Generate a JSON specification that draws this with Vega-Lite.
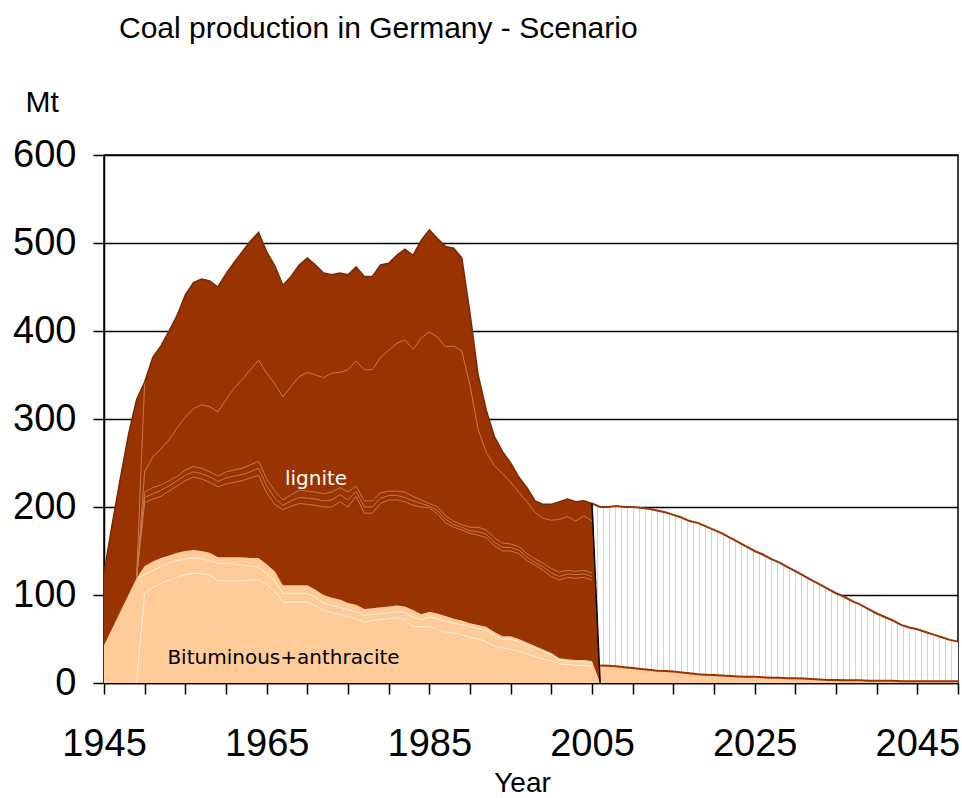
{
  "$schema": "https://vega.github.io/schema/vega-lite/v6.json",
  "width": 854,
  "height": 528,
  "autosize": {"type": "none"},
  "padding": {"left": 104, "top": 155, "right": 4, "bottom": 115},
  "background": "white",
  "title": {"text": "Coal production in Germany - Scenario", "anchor": "start", "frame": "group", "dx": 15, "offset": 43, "font": "Liberation Sans", "fontSize": 30, "fontWeight": "normal", "color": "#000"},
  "config": {"view": {"stroke": "#000", "strokeWidth": 1.5}},
  "datasets": {
    "hist": [
      {"year": 1945, "total": 125, "bit": 43},
      {"year": 1946, "total": 180, "bit": 62},
      {"year": 1947, "total": 232, "bit": 81},
      {"year": 1948, "total": 282, "bit": 100},
      {"year": 1949, "total": 322, "bit": 119, "U": 119, "B1": 119, "B2": 119, "B3": 119, "W1": 0, "W2": 119, "S": 119},
      {"year": 1950, "total": 342, "bit": 133, "U": 240, "B1": 217, "B2": 211, "B3": 205, "W1": 102, "W2": 123, "S": 342},
      {"year": 1951, "total": 370, "bit": 138, "U": 257, "B1": 222, "B2": 215, "B3": 209, "W1": 108, "W2": 128},
      {"year": 1952, "total": 383, "bit": 142, "U": 266, "B1": 225, "B2": 219, "B3": 212, "W1": 113, "W2": 132},
      {"year": 1953, "total": 400, "bit": 145, "U": 276, "B1": 230, "B2": 224, "B3": 218, "W1": 117, "W2": 136},
      {"year": 1954, "total": 418, "bit": 148, "U": 290, "B1": 235, "B2": 230, "B3": 224, "W1": 120, "W2": 139},
      {"year": 1955, "total": 441, "bit": 150, "U": 302, "B1": 242, "B2": 236, "B3": 230, "W1": 123, "W2": 141},
      {"year": 1956, "total": 455, "bit": 151, "U": 312, "B1": 246, "B2": 240, "B3": 234, "W1": 125, "W2": 142},
      {"year": 1957, "total": 459, "bit": 150, "U": 316, "B1": 244, "B2": 238, "B3": 232, "W1": 124, "W2": 141},
      {"year": 1958, "total": 457, "bit": 148, "U": 314, "B1": 240, "B2": 234, "B3": 228, "W1": 123, "W2": 139},
      {"year": 1959, "total": 450, "bit": 143, "U": 308, "B1": 235, "B2": 229, "B3": 223, "W1": 116, "W2": 136},
      {"year": 1960, "total": 465, "bit": 143, "U": 322, "B1": 240, "B2": 233, "B3": 226, "W1": 116, "W2": 136},
      {"year": 1961, "total": 478, "bit": 143, "U": 335, "B1": 242, "B2": 235, "B3": 228, "W1": 116, "W2": 135},
      {"year": 1962, "total": 490, "bit": 143, "U": 345, "B1": 244, "B2": 237, "B3": 230, "W1": 116, "W2": 134},
      {"year": 1963, "total": 502, "bit": 142, "U": 356, "B1": 248, "B2": 240, "B3": 233, "W1": 117, "W2": 133},
      {"year": 1964, "total": 512, "bit": 142, "U": 367, "B1": 252, "B2": 244, "B3": 236, "W1": 117, "W2": 132},
      {"year": 1965, "total": 490, "bit": 135, "U": 352, "B1": 232, "B2": 224, "B3": 216, "W1": 112, "W2": 124},
      {"year": 1966, "total": 474, "bit": 127, "U": 340, "B1": 218, "B2": 210, "B3": 203, "W1": 104, "W2": 116},
      {"year": 1967, "total": 452, "bit": 111, "U": 325, "B1": 208, "B2": 202, "B3": 197, "W1": 92, "W2": 102},
      {"year": 1968, "total": 462, "bit": 111, "U": 337, "B1": 214, "B2": 207, "B3": 201, "W1": 92, "W2": 102},
      {"year": 1969, "total": 475, "bit": 111, "U": 348, "B1": 219, "B2": 211, "B3": 204, "W1": 92, "W2": 102},
      {"year": 1970, "total": 483, "bit": 111, "U": 353, "B1": 218, "B2": 210, "B3": 203, "W1": 92, "W2": 102},
      {"year": 1971, "total": 475, "bit": 106, "U": 350, "B1": 217, "B2": 209, "B3": 202, "W1": 88, "W2": 97},
      {"year": 1972, "total": 466, "bit": 100, "U": 347, "B1": 215, "B2": 207, "B3": 200, "W1": 83, "W2": 91},
      {"year": 1973, "total": 464, "bit": 97, "U": 352, "B1": 217, "B2": 208, "B3": 200, "W1": 80, "W2": 88},
      {"year": 1974, "total": 466, "bit": 95, "U": 353, "B1": 222, "B2": 214, "B3": 206, "W1": 78, "W2": 86},
      {"year": 1975, "total": 464, "bit": 91, "U": 356, "B1": 217, "B2": 208, "B3": 200, "W1": 75, "W2": 83},
      {"year": 1976, "total": 473, "bit": 89, "U": 366, "B1": 224, "B2": 218, "B3": 212, "W1": 73, "W2": 81},
      {"year": 1977, "total": 462, "bit": 84, "U": 356, "B1": 207, "B2": 200, "B3": 193, "W1": 69, "W2": 77},
      {"year": 1978, "total": 462, "bit": 85, "U": 356, "B1": 207, "B2": 200, "B3": 193, "W1": 71, "W2": 78},
      {"year": 1979, "total": 475, "bit": 86, "U": 370, "B1": 216, "B2": 210, "B3": 204, "W1": 72, "W2": 79},
      {"year": 1980, "total": 477, "bit": 87, "U": 378, "B1": 218, "B2": 213, "B3": 208, "W1": 73, "W2": 80},
      {"year": 1981, "total": 486, "bit": 88, "U": 386, "B1": 218, "B2": 213, "B3": 208, "W1": 74, "W2": 81},
      {"year": 1982, "total": 493, "bit": 87, "U": 390, "B1": 217, "B2": 211, "B3": 206, "W1": 72, "W2": 80},
      {"year": 1983, "total": 486, "bit": 83, "U": 379, "B1": 212, "B2": 207, "B3": 202, "W1": 64, "W2": 75},
      {"year": 1984, "total": 503, "bit": 78, "U": 392, "B1": 208, "B2": 204, "B3": 200, "W1": 64, "W2": 72},
      {"year": 1985, "total": 515, "bit": 81, "U": 399, "B1": 204, "B2": 201, "B3": 199, "W1": 64, "W2": 75},
      {"year": 1986, "total": 505, "bit": 79, "U": 393, "B1": 200, "B2": 196, "B3": 192, "W1": 61, "W2": 73},
      {"year": 1987, "total": 496, "bit": 76, "U": 382, "B1": 190, "B2": 186, "B3": 182, "W1": 58, "W2": 70},
      {"year": 1988, "total": 494, "bit": 73, "U": 383, "B1": 184, "B2": 180, "B3": 177, "W1": 57, "W2": 68},
      {"year": 1989, "total": 483, "bit": 71, "U": 377, "B1": 180, "B2": 177, "B3": 174, "W1": 55, "W2": 66},
      {"year": 1990, "total": 420, "bit": 68, "U": 338, "B1": 177, "B2": 173, "B3": 170, "W1": 52, "W2": 64},
      {"year": 1991, "total": 350, "bit": 66, "U": 288, "B1": 177, "B2": 172, "B3": 168, "W1": 50, "W2": 62},
      {"year": 1992, "total": 310, "bit": 64, "U": 262, "B1": 174, "B2": 169, "B3": 165, "W1": 47, "W2": 60},
      {"year": 1993, "total": 280, "bit": 58, "U": 247, "B1": 165, "B2": 160, "B3": 156, "W1": 42, "W2": 54},
      {"year": 1994, "total": 263, "bit": 53, "U": 238, "B1": 159, "B2": 154, "B3": 150, "W1": 40, "W2": 50},
      {"year": 1995, "total": 250, "bit": 53, "U": 228, "B1": 158, "B2": 154, "B3": 150, "W1": 38, "W2": 50},
      {"year": 1996, "total": 234, "bit": 50, "U": 217, "B1": 155, "B2": 151, "B3": 147, "W1": 36, "W2": 47},
      {"year": 1997, "total": 222, "bit": 46, "U": 206, "B1": 147, "B2": 143, "B3": 139, "W1": 33, "W2": 43},
      {"year": 1998, "total": 207, "bit": 42, "U": 194, "B1": 141, "B2": 137, "B3": 134, "W1": 30, "W2": 40},
      {"year": 1999, "total": 203, "bit": 38, "U": 187, "B1": 136, "B2": 132, "B3": 128, "W1": 27, "W2": 36},
      {"year": 2000, "total": 203, "bit": 34, "U": 185, "B1": 130, "B2": 125, "B3": 121, "W1": 25, "W2": 32},
      {"year": 2001, "total": 206, "bit": 28, "U": 186, "B1": 126, "B2": 121, "B3": 117, "W1": 22, "W2": 26},
      {"year": 2002, "total": 209, "bit": 27, "U": 189, "B1": 128, "B2": 124, "B3": 120, "W1": 21, "W2": 25},
      {"year": 2003, "total": 206, "bit": 26, "U": 184, "B1": 127, "B2": 123, "B3": 119, "W1": 20, "W2": 24},
      {"year": 2004, "total": 207, "bit": 26, "U": 190, "B1": 128, "B2": 124, "B3": 120, "W1": 20, "W2": 24},
      {"year": 2005, "total": 204, "bit": 25, "U": 184, "B1": 125, "B2": 121, "B3": 117, "W1": 19, "W2": 23},
      {"year": 2006, "total": 0, "bit": 0}
    ],
    "scen": [
      {"year": 2005, "top": 204, "base": 204, "edge": 204},
      {"year": 2006, "top": 200, "base": 0, "bit": 20, "edge": 0},
      {"year": 2007, "top": 200, "base": 0, "bit": 19.5},
      {"year": 2008, "top": 201, "base": 0, "bit": 19},
      {"year": 2009, "top": 200, "base": 0, "bit": 18},
      {"year": 2010, "top": 200, "base": 0, "bit": 17},
      {"year": 2011, "top": 199, "base": 0, "bit": 16},
      {"year": 2012, "top": 198, "base": 0, "bit": 15},
      {"year": 2013, "top": 196, "base": 0, "bit": 14},
      {"year": 2014, "top": 194, "base": 0, "bit": 13.5},
      {"year": 2015, "top": 191, "base": 0, "bit": 13},
      {"year": 2016, "top": 188, "base": 0, "bit": 12},
      {"year": 2017, "top": 184, "base": 0, "bit": 11},
      {"year": 2018, "top": 182, "base": 0, "bit": 10},
      {"year": 2019, "top": 178, "base": 0, "bit": 9.5},
      {"year": 2020, "top": 174, "base": 0, "bit": 9},
      {"year": 2021, "top": 170, "base": 0, "bit": 8.5},
      {"year": 2022, "top": 165, "base": 0, "bit": 8},
      {"year": 2023, "top": 160, "base": 0, "bit": 7.5},
      {"year": 2024, "top": 155, "base": 0, "bit": 7},
      {"year": 2025, "top": 150, "base": 0, "bit": 7},
      {"year": 2026, "top": 146, "base": 0, "bit": 6.5},
      {"year": 2027, "top": 141, "base": 0, "bit": 6},
      {"year": 2028, "top": 137, "base": 0, "bit": 6},
      {"year": 2029, "top": 132, "base": 0, "bit": 5.5},
      {"year": 2030, "top": 127, "base": 0, "bit": 5.5},
      {"year": 2031, "top": 122, "base": 0, "bit": 5},
      {"year": 2032, "top": 117, "base": 0, "bit": 4.5},
      {"year": 2033, "top": 112, "base": 0, "bit": 4},
      {"year": 2034, "top": 107, "base": 0, "bit": 3.5},
      {"year": 2035, "top": 102, "base": 0, "bit": 3.5},
      {"year": 2036, "top": 98, "base": 0, "bit": 3},
      {"year": 2037, "top": 93, "base": 0, "bit": 3},
      {"year": 2038, "top": 89, "base": 0, "bit": 3},
      {"year": 2039, "top": 84, "base": 0, "bit": 2.5},
      {"year": 2040, "top": 79, "base": 0, "bit": 2.5},
      {"year": 2041, "top": 75, "base": 0, "bit": 2.5},
      {"year": 2042, "top": 71, "base": 0, "bit": 2.5},
      {"year": 2043, "top": 66, "base": 0, "bit": 2},
      {"year": 2044, "top": 63, "base": 0, "bit": 2},
      {"year": 2045, "top": 61, "base": 0, "bit": 2},
      {"year": 2046, "top": 58, "base": 0, "bit": 2},
      {"year": 2047, "top": 55, "base": 0, "bit": 2},
      {"year": 2048, "top": 52, "base": 0, "bit": 2},
      {"year": 2049, "top": 49, "base": 0, "bit": 2},
      {"year": 2050, "top": 47, "base": 0, "bit": 2}
    ]
  },
  "encoding": {
    "x": {
      "field": "year", "type": "quantitative",
      "scale": {"domain": [1945, 2050], "nice": false, "zero": false},
      "axis": {
        "values": [1945, 1950, 1955, 1960, 1965, 1970, 1975, 1980, 1985, 1990, 1995, 2000, 2005, 2010, 2015, 2020, 2025, 2030, 2035, 2040, 2045, 2050],
        "labelExpr": "datum.value % 20 == 5 ? datum.value : ''",
        "grid": false,
        "domainColor": "#000", "domainWidth": 1.5,
        "tickColor": "#000", "tickSize": 11, "tickWidth": 1.5,
        "labelFont": "Liberation Sans", "labelFontSize": 38, "labelColor": "#000", "labelPadding": 31,
        "labelOverlap": false, "labelFlush": false, "labelBound": false,
        "title": "Year", "titleFont": "Liberation Sans", "titleFontSize": 28, "titleFontWeight": "normal", "titleColor": "#000",
        "titleX": 418, "titleY": 100, "titleAlign": "center", "titleBaseline": "middle"
      }
    }
  },
  "layer": [
    {
      "data": {"name": "hist"},
      "mark": {"type": "area", "color": "#993300"},
      "encoding": {
        "y": {
          "field": "total", "type": "quantitative", "title": "Mt",
          "scale": {"domain": [0, 600], "nice": false},
          "axis": {
            "values": [0, 100, 200, 300, 400, 500, 600],
            "grid": true, "gridColor": "#000", "gridWidth": 1.6, "gridOpacity": 1,
            "domainColor": "#000", "domainWidth": 1.5,
            "tickColor": "#000", "tickSize": 11, "tickWidth": 1.5,
            "labelFont": "Liberation Sans", "labelFontSize": 38, "labelColor": "#000", "labelPadding": 17,
            "labelOverlap": false, "labelFlush": false, "labelBound": false,
            "titleFont": "Liberation Sans", "titleFontSize": 30, "titleFontWeight": "normal", "titleColor": "#000",
            "titleAngle": 0, "titleAlign": "left", "titleBaseline": "middle", "titleX": -79, "titleY": -53
          }
        }
      }
    },
    {
      "data": {"name": "hist"},
      "mark": {"type": "area", "color": "#FFCC99"},
      "encoding": {"y": {"field": "bit", "type": "quantitative", "title": "Mt"}}
    },
    {
      "data": {"name": "hist"},
      "mark": {"type": "line", "color": "#fff0dc", "strokeWidth": 1},
      "encoding": {"y": {"field": "W1", "type": "quantitative", "title": "Mt"}}
    },
    {
      "data": {"name": "hist"},
      "mark": {"type": "line", "color": "#fff0dc", "strokeWidth": 1},
      "encoding": {"y": {"field": "W2", "type": "quantitative", "title": "Mt"}}
    },
    {
      "data": {"name": "hist"},
      "mark": {"type": "line", "color": "#c8764e", "strokeWidth": 1},
      "encoding": {"y": {"field": "S", "type": "quantitative", "title": "Mt"}}
    },
    {
      "data": {"name": "hist"},
      "mark": {"type": "line", "color": "#c8764e", "strokeWidth": 1},
      "encoding": {"y": {"field": "U", "type": "quantitative", "title": "Mt"}}
    },
    {
      "data": {"name": "hist"},
      "mark": {"type": "line", "color": "#c8764e", "strokeWidth": 1},
      "encoding": {"y": {"field": "B1", "type": "quantitative", "title": "Mt"}}
    },
    {
      "data": {"name": "hist"},
      "mark": {"type": "line", "color": "#c8764e", "strokeWidth": 1},
      "encoding": {"y": {"field": "B2", "type": "quantitative", "title": "Mt"}}
    },
    {
      "data": {"name": "hist"},
      "mark": {"type": "line", "color": "#c8764e", "strokeWidth": 1},
      "encoding": {"y": {"field": "B3", "type": "quantitative", "title": "Mt"}}
    },
    {
      "data": {"name": "hist"},
      "transform": [{"filter": "datum.year <= 2005"}],
      "mark": {"type": "line", "color": "#7a2800", "strokeWidth": 1.5},
      "encoding": {"y": {"field": "total", "type": "quantitative", "title": "Mt"}}
    },
    {
      "data": {"name": "scen"},
      "mark": {
        "type": "area",
        "color": {
          "gradient": "linear", "x1": 0, "x2": 1, "y1": 0, "y2": 0,
          "stops": [
            {"offset": 0, "color": "#fff"},
            {"offset": 0.0137, "color": "#fff"}, {"offset": 0.0137, "color": "#f6c7b3"}, {"offset": 0.0170, "color": "#f6c7b3"}, {"offset": 0.0170, "color": "#fff"},
            {"offset": 0.0301, "color": "#fff"}, {"offset": 0.0301, "color": "#f6c7b3"}, {"offset": 0.0334, "color": "#f6c7b3"}, {"offset": 0.0334, "color": "#fff"},
            {"offset": 0.0465, "color": "#fff"}, {"offset": 0.0465, "color": "#f6c7b3"}, {"offset": 0.0498, "color": "#f6c7b3"}, {"offset": 0.0498, "color": "#fff"},
            {"offset": 0.0629, "color": "#fff"}, {"offset": 0.0629, "color": "#f6c7b3"}, {"offset": 0.0662, "color": "#f6c7b3"}, {"offset": 0.0662, "color": "#fff"},
            {"offset": 0.0792, "color": "#fff"}, {"offset": 0.0792, "color": "#f6c7b3"}, {"offset": 0.0825, "color": "#f6c7b3"}, {"offset": 0.0825, "color": "#fff"},
            {"offset": 0.0956, "color": "#fff"}, {"offset": 0.0956, "color": "#f6c7b3"}, {"offset": 0.0989, "color": "#f6c7b3"}, {"offset": 0.0989, "color": "#fff"},
            {"offset": 0.1120, "color": "#fff"}, {"offset": 0.1120, "color": "#f6c7b3"}, {"offset": 0.1153, "color": "#f6c7b3"}, {"offset": 0.1153, "color": "#fff"},
            {"offset": 0.1284, "color": "#fff"}, {"offset": 0.1284, "color": "#f6c7b3"}, {"offset": 0.1317, "color": "#f6c7b3"}, {"offset": 0.1317, "color": "#fff"},
            {"offset": 0.1448, "color": "#fff"}, {"offset": 0.1448, "color": "#f6c7b3"}, {"offset": 0.1481, "color": "#f6c7b3"}, {"offset": 0.1481, "color": "#fff"},
            {"offset": 0.1612, "color": "#fff"}, {"offset": 0.1612, "color": "#f6c7b3"}, {"offset": 0.1645, "color": "#f6c7b3"}, {"offset": 0.1645, "color": "#fff"},
            {"offset": 0.1776, "color": "#fff"}, {"offset": 0.1776, "color": "#f6c7b3"}, {"offset": 0.1809, "color": "#f6c7b3"}, {"offset": 0.1809, "color": "#fff"},
            {"offset": 0.1940, "color": "#fff"}, {"offset": 0.1940, "color": "#f6c7b3"}, {"offset": 0.1973, "color": "#f6c7b3"}, {"offset": 0.1973, "color": "#fff"},
            {"offset": 0.2104, "color": "#fff"}, {"offset": 0.2104, "color": "#f6c7b3"}, {"offset": 0.2137, "color": "#f6c7b3"}, {"offset": 0.2137, "color": "#fff"},
            {"offset": 0.2268, "color": "#fff"}, {"offset": 0.2268, "color": "#f6c7b3"}, {"offset": 0.2301, "color": "#f6c7b3"}, {"offset": 0.2301, "color": "#fff"},
            {"offset": 0.2432, "color": "#fff"}, {"offset": 0.2432, "color": "#f6c7b3"}, {"offset": 0.2465, "color": "#f6c7b3"}, {"offset": 0.2465, "color": "#fff"},
            {"offset": 0.2596, "color": "#fff"}, {"offset": 0.2596, "color": "#f6c7b3"}, {"offset": 0.2629, "color": "#f6c7b3"}, {"offset": 0.2629, "color": "#fff"},
            {"offset": 0.2760, "color": "#fff"}, {"offset": 0.2760, "color": "#f6c7b3"}, {"offset": 0.2793, "color": "#f6c7b3"}, {"offset": 0.2793, "color": "#fff"},
            {"offset": 0.2923, "color": "#fff"}, {"offset": 0.2923, "color": "#f6c7b3"}, {"offset": 0.2956, "color": "#f6c7b3"}, {"offset": 0.2956, "color": "#fff"},
            {"offset": 0.3087, "color": "#fff"}, {"offset": 0.3087, "color": "#f6c7b3"}, {"offset": 0.3120, "color": "#f6c7b3"}, {"offset": 0.3120, "color": "#fff"},
            {"offset": 0.3251, "color": "#fff"}, {"offset": 0.3251, "color": "#f6c7b3"}, {"offset": 0.3284, "color": "#f6c7b3"}, {"offset": 0.3284, "color": "#fff"},
            {"offset": 0.3415, "color": "#fff"}, {"offset": 0.3415, "color": "#f6c7b3"}, {"offset": 0.3448, "color": "#f6c7b3"}, {"offset": 0.3448, "color": "#fff"},
            {"offset": 0.3579, "color": "#fff"}, {"offset": 0.3579, "color": "#f6c7b3"}, {"offset": 0.3612, "color": "#f6c7b3"}, {"offset": 0.3612, "color": "#fff"},
            {"offset": 0.3743, "color": "#fff"}, {"offset": 0.3743, "color": "#f6c7b3"}, {"offset": 0.3776, "color": "#f6c7b3"}, {"offset": 0.3776, "color": "#fff"},
            {"offset": 0.3907, "color": "#fff"}, {"offset": 0.3907, "color": "#f6c7b3"}, {"offset": 0.3940, "color": "#f6c7b3"}, {"offset": 0.3940, "color": "#fff"},
            {"offset": 0.4071, "color": "#fff"}, {"offset": 0.4071, "color": "#f6c7b3"}, {"offset": 0.4104, "color": "#f6c7b3"}, {"offset": 0.4104, "color": "#fff"},
            {"offset": 0.4235, "color": "#fff"}, {"offset": 0.4235, "color": "#f6c7b3"}, {"offset": 0.4268, "color": "#f6c7b3"}, {"offset": 0.4268, "color": "#fff"},
            {"offset": 0.4399, "color": "#fff"}, {"offset": 0.4399, "color": "#f6c7b3"}, {"offset": 0.4432, "color": "#f6c7b3"}, {"offset": 0.4432, "color": "#fff"},
            {"offset": 0.4563, "color": "#fff"}, {"offset": 0.4563, "color": "#f6c7b3"}, {"offset": 0.4596, "color": "#f6c7b3"}, {"offset": 0.4596, "color": "#fff"},
            {"offset": 0.4727, "color": "#fff"}, {"offset": 0.4727, "color": "#f6c7b3"}, {"offset": 0.4760, "color": "#f6c7b3"}, {"offset": 0.4760, "color": "#fff"},
            {"offset": 0.4891, "color": "#fff"}, {"offset": 0.4891, "color": "#f6c7b3"}, {"offset": 0.4924, "color": "#f6c7b3"}, {"offset": 0.4924, "color": "#fff"},
            {"offset": 0.5055, "color": "#fff"}, {"offset": 0.5055, "color": "#f6c7b3"}, {"offset": 0.5088, "color": "#f6c7b3"}, {"offset": 0.5088, "color": "#fff"},
            {"offset": 0.5218, "color": "#fff"}, {"offset": 0.5218, "color": "#f6c7b3"}, {"offset": 0.5251, "color": "#f6c7b3"}, {"offset": 0.5251, "color": "#fff"},
            {"offset": 0.5382, "color": "#fff"}, {"offset": 0.5382, "color": "#f6c7b3"}, {"offset": 0.5415, "color": "#f6c7b3"}, {"offset": 0.5415, "color": "#fff"},
            {"offset": 0.5546, "color": "#fff"}, {"offset": 0.5546, "color": "#f6c7b3"}, {"offset": 0.5579, "color": "#f6c7b3"}, {"offset": 0.5579, "color": "#fff"},
            {"offset": 0.5710, "color": "#fff"}, {"offset": 0.5710, "color": "#f6c7b3"}, {"offset": 0.5743, "color": "#f6c7b3"}, {"offset": 0.5743, "color": "#fff"},
            {"offset": 0.5874, "color": "#fff"}, {"offset": 0.5874, "color": "#f6c7b3"}, {"offset": 0.5907, "color": "#f6c7b3"}, {"offset": 0.5907, "color": "#fff"},
            {"offset": 0.6038, "color": "#fff"}, {"offset": 0.6038, "color": "#f6c7b3"}, {"offset": 0.6071, "color": "#f6c7b3"}, {"offset": 0.6071, "color": "#fff"},
            {"offset": 0.6202, "color": "#fff"}, {"offset": 0.6202, "color": "#f6c7b3"}, {"offset": 0.6235, "color": "#f6c7b3"}, {"offset": 0.6235, "color": "#fff"},
            {"offset": 0.6366, "color": "#fff"}, {"offset": 0.6366, "color": "#f6c7b3"}, {"offset": 0.6399, "color": "#f6c7b3"}, {"offset": 0.6399, "color": "#fff"},
            {"offset": 0.6530, "color": "#fff"}, {"offset": 0.6530, "color": "#f6c7b3"}, {"offset": 0.6563, "color": "#f6c7b3"}, {"offset": 0.6563, "color": "#fff"},
            {"offset": 0.6694, "color": "#fff"}, {"offset": 0.6694, "color": "#f6c7b3"}, {"offset": 0.6727, "color": "#f6c7b3"}, {"offset": 0.6727, "color": "#fff"},
            {"offset": 0.6858, "color": "#fff"}, {"offset": 0.6858, "color": "#f6c7b3"}, {"offset": 0.6891, "color": "#f6c7b3"}, {"offset": 0.6891, "color": "#fff"},
            {"offset": 0.7022, "color": "#fff"}, {"offset": 0.7022, "color": "#f6c7b3"}, {"offset": 0.7055, "color": "#f6c7b3"}, {"offset": 0.7055, "color": "#fff"},
            {"offset": 0.7186, "color": "#fff"}, {"offset": 0.7186, "color": "#f6c7b3"}, {"offset": 0.7219, "color": "#f6c7b3"}, {"offset": 0.7219, "color": "#fff"},
            {"offset": 0.7350, "color": "#fff"}, {"offset": 0.7350, "color": "#f6c7b3"}, {"offset": 0.7383, "color": "#f6c7b3"}, {"offset": 0.7383, "color": "#fff"},
            {"offset": 0.7514, "color": "#fff"}, {"offset": 0.7514, "color": "#f6c7b3"}, {"offset": 0.7547, "color": "#f6c7b3"}, {"offset": 0.7547, "color": "#fff"},
            {"offset": 0.7677, "color": "#fff"}, {"offset": 0.7677, "color": "#f6c7b3"}, {"offset": 0.7710, "color": "#f6c7b3"}, {"offset": 0.7710, "color": "#fff"},
            {"offset": 0.7841, "color": "#fff"}, {"offset": 0.7841, "color": "#f6c7b3"}, {"offset": 0.7874, "color": "#f6c7b3"}, {"offset": 0.7874, "color": "#fff"},
            {"offset": 0.8005, "color": "#fff"}, {"offset": 0.8005, "color": "#f6c7b3"}, {"offset": 0.8038, "color": "#f6c7b3"}, {"offset": 0.8038, "color": "#fff"},
            {"offset": 0.8169, "color": "#fff"}, {"offset": 0.8169, "color": "#f6c7b3"}, {"offset": 0.8202, "color": "#f6c7b3"}, {"offset": 0.8202, "color": "#fff"},
            {"offset": 0.8333, "color": "#fff"}, {"offset": 0.8333, "color": "#f6c7b3"}, {"offset": 0.8366, "color": "#f6c7b3"}, {"offset": 0.8366, "color": "#fff"},
            {"offset": 0.8497, "color": "#fff"}, {"offset": 0.8497, "color": "#f6c7b3"}, {"offset": 0.8530, "color": "#f6c7b3"}, {"offset": 0.8530, "color": "#fff"},
            {"offset": 0.8661, "color": "#fff"}, {"offset": 0.8661, "color": "#f6c7b3"}, {"offset": 0.8694, "color": "#f6c7b3"}, {"offset": 0.8694, "color": "#fff"},
            {"offset": 0.8825, "color": "#fff"}, {"offset": 0.8825, "color": "#f6c7b3"}, {"offset": 0.8858, "color": "#f6c7b3"}, {"offset": 0.8858, "color": "#fff"},
            {"offset": 0.8989, "color": "#fff"}, {"offset": 0.8989, "color": "#f6c7b3"}, {"offset": 0.9022, "color": "#f6c7b3"}, {"offset": 0.9022, "color": "#fff"},
            {"offset": 0.9153, "color": "#fff"}, {"offset": 0.9153, "color": "#f6c7b3"}, {"offset": 0.9186, "color": "#f6c7b3"}, {"offset": 0.9186, "color": "#fff"},
            {"offset": 0.9317, "color": "#fff"}, {"offset": 0.9317, "color": "#f6c7b3"}, {"offset": 0.9350, "color": "#f6c7b3"}, {"offset": 0.9350, "color": "#fff"},
            {"offset": 0.9481, "color": "#fff"}, {"offset": 0.9481, "color": "#f6c7b3"}, {"offset": 0.9514, "color": "#f6c7b3"}, {"offset": 0.9514, "color": "#fff"},
            {"offset": 0.9645, "color": "#fff"}, {"offset": 0.9645, "color": "#f6c7b3"}, {"offset": 0.9678, "color": "#f6c7b3"}, {"offset": 0.9678, "color": "#fff"},
            {"offset": 0.9809, "color": "#fff"}, {"offset": 0.9809, "color": "#f6c7b3"}, {"offset": 0.9842, "color": "#f6c7b3"}, {"offset": 0.9842, "color": "#fff"},
            {"offset": 1, "color": "#fff"}
          ]
        }
      },
      "encoding": {
        "y": {"field": "top", "type": "quantitative", "title": "Mt"},
        "y2": {"field": "base"}
      }
    },
    {
      "data": {"name": "scen"},
      "transform": [{"filter": "datum.year >= 2006"}],
      "mark": {"type": "area", "color": "#FFCC99"},
      "encoding": {"y": {"field": "bit", "type": "quantitative", "title": "Mt"}}
    },
    {
      "data": {"name": "scen"},
      "mark": {"type": "line", "color": "#993300", "strokeWidth": 2},
      "encoding": {"y": {"field": "top", "type": "quantitative", "title": "Mt"}}
    },
    {
      "data": {"name": "scen"},
      "transform": [{"filter": "datum.year >= 2006"}],
      "mark": {"type": "line", "color": "#993300", "strokeWidth": 2},
      "encoding": {"y": {"field": "bit", "type": "quantitative", "title": "Mt"}}
    },
    {
      "data": {"name": "scen"},
      "mark": {"type": "line", "color": "#000", "strokeWidth": 1.5},
      "encoding": {"y": {"field": "edge", "type": "quantitative", "title": "Mt"}}
    },
    {
      "data": {"values": [{"year": 1971.07, "value": 225, "label": "lignite"}]},
      "mark": {"type": "text", "color": "#fff", "font": "DejaVu Sans", "fontSize": 20, "align": "center", "baseline": "alphabetic"},
      "encoding": {"y": {"field": "value", "type": "quantitative", "title": "Mt"}, "text": {"field": "label"}}
    },
    {
      "data": {"values": [{"year": 1967.07, "value": 21.6, "label": "Bituminous+anthracite"}]},
      "mark": {"type": "text", "color": "#000", "font": "DejaVu Sans", "fontSize": 20, "align": "center", "baseline": "alphabetic"},
      "encoding": {"y": {"field": "value", "type": "quantitative", "title": "Mt"}, "text": {"field": "label"}}
    }
  ]
}
